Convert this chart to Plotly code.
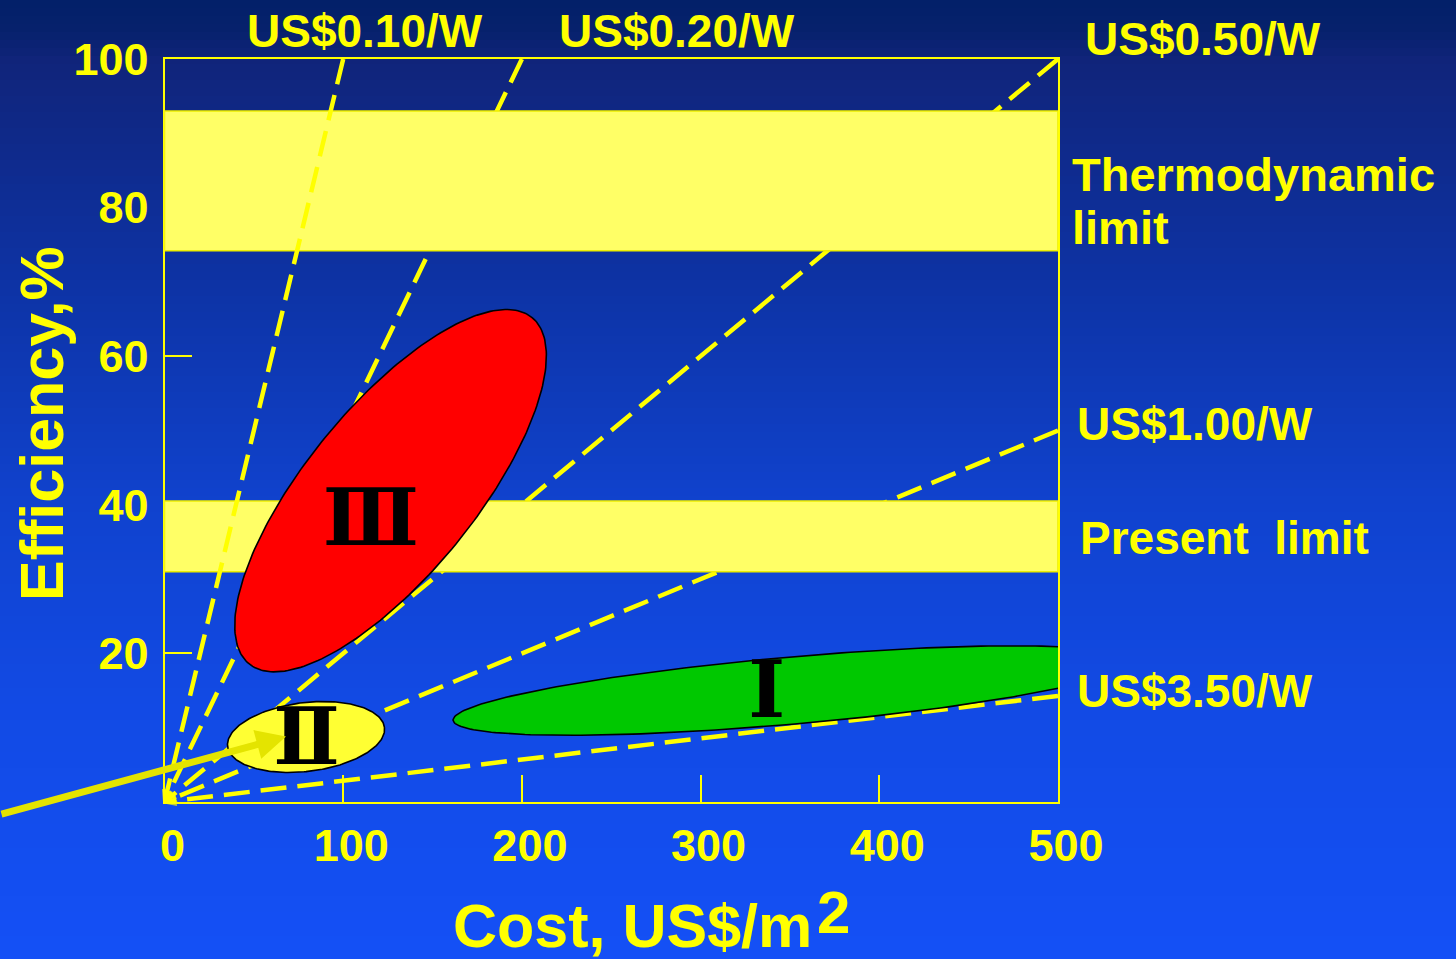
import numpy as np
import plotly.graph_objects as go

# ---------------------------------------------------------------- data
COST_TICKS = [0, 100, 200, 300, 400, 500]          # US$/m2
EFF_TICKS = [20, 40, 60, 80, 100]                  # %

# iso-cost lines in US$ per watt (peak, 1000 W/m2 sunlight)
PRICE_PER_W = [0.10, 0.20, 0.50, 1.00, 3.50]
PRICE_LABELS = ["US$0.10/W", "US$0.20/W", "US$0.50/W", "US$1.00/W", "US$3.50/W"]

# efficiency limits, %
LIMIT_NAMES = ["Thermodynamic limit", "Present limit"]
LIMIT_LOW = [74.2, 31.0]
LIMIT_HIGH = [93.0, 40.5]

# PV generations: region centre (cost, efficiency) and the two semi-axis
# vectors of each region, in (US$/m2, %) units
GEN_LABELS = ["Ⅰ", "Ⅱ", "Ⅲ"]
GEN_COST = [351.0, 79.2, 126.5]
GEN_EFF = [15.0, 8.75, 41.9]
GEN_MAJOR = [(189.5, 4.0), (43.9, 1.28), (79.2, 23.3)]
GEN_MINOR = [(-1.71, 4.5), (-2.31, 4.60), (-36.5, 7.2)]
GEN_LABEL_COST = [337.0, 79.5, 115.5]
GEN_LABEL_EFF = [14.1, 7.8, 37.2]
GEN_COLORS = ["#00c800", "#ffff33", "#ff0000"]

COST_MAX, EFF_MAX = 500, 100

# ---------------------------------------------------------------- layout helpers
W, H = 1456, 959
YEL = "#ffff00"
FONT = "Liberation Sans, Arial, Helvetica, sans-serif"


def px(x):
    return x / W


def py(y):
    return 1 - y / H


fig = go.Figure()

# background: vertical navy-to-blue gradient made of thin stripes
stops_y = [0, 30, 60, 300, 500, 700, 959]
stops_c = [(3, 32, 104), (6, 33, 108), (16, 36, 122), (13, 52, 168),
           (16, 66, 205), (18, 74, 228), (20, 80, 246)]
edges = np.arange(0, H + 8, 8)
shapes = []
for a, b in zip(edges[:-1], edges[1:]):
    mid = (a + b) / 2
    rgb = [int(round(np.interp(mid, stops_y, [c[k] for c in stops_c]))) for k in range(3)]
    shapes.append(dict(type="rect", xref="paper", yref="paper",
                       x0=0, x1=1, y0=py(min(b + 1, H)), y1=py(a),
                       fillcolor="rgb(%d,%d,%d)" % tuple(rgb), line_width=0,
                       layer="below"))


def price_line(p):
    c_end = min(COST_MAX, p * 1000.0)
    return [c_end, 0.0], [c_end / (p * 10.0), 0.0]


def add_price_line(p):
    xs, ys = price_line(p)
    fig.add_trace(go.Scatter(
        x=xs, y=ys, mode="lines+markers",
        line=dict(color=YEL, width=4.5, dash="26px,11px"),
        marker=dict(symbol=["circle", "arrow-open"], size=[0, 11],
                    angleref="previous", color=YEL,
                    line=dict(color=YEL, width=3)),
        hoverinfo="skip", showlegend=False, cliponaxis=False))


# iso-price lines running behind the limit bands
for p in PRICE_PER_W[1:]:
    add_price_line(p)

# efficiency limit bands
for lo, hi in zip(LIMIT_LOW, LIMIT_HIGH):
    fig.add_trace(go.Scatter(
        x=[0, COST_MAX, COST_MAX, 0, 0], y=[lo, lo, hi, hi, lo],
        mode="lines", fill="toself", fillcolor="#ffff66",
        line=dict(color="#eeee00", width=1.5),
        hoverinfo="skip", showlegend=False))

# the steepest iso-price line is drawn over the bands
add_price_line(PRICE_PER_W[0])

# generation regions
t = np.linspace(0, 2 * np.pi, 241)
for cx, cy, (ux, uy), (vx, vy), col in zip(GEN_COST, GEN_EFF, GEN_MAJOR, GEN_MINOR, GEN_COLORS):
    fig.add_trace(go.Scatter(
        x=cx + ux * np.cos(t) + vx * np.sin(t),
        y=cy + uy * np.cos(t) + vy * np.sin(t),
        mode="lines", fill="toself", fillcolor=col,
        line=dict(color="black", width=1.6),
        hoverinfo="skip", showlegend=False))

fig.add_trace(go.Scatter(
    x=GEN_LABEL_COST, y=GEN_LABEL_EFF, mode="text", text=GEN_LABELS,
    textfont=dict(family="DejaVu Serif", size=79, color="black", weight=700),
    textposition="middle center", hoverinfo="skip", showlegend=False))

# ---------------------------------------------------------------- annotations
ann = []


def label(text, x, y, xanchor="left", size=46, **kw):
    ann.append(dict(text=text, xref="paper", yref="paper", x=px(x), y=py(y),
                    xanchor=xanchor, yanchor="middle", showarrow=False,
                    font=dict(family=FONT, size=size, color=YEL, weight=700), **kw))


label(PRICE_LABELS[0], 365, 31, "center")
label(PRICE_LABELS[1], 677, 31, "center")
label(PRICE_LABELS[2], 1083, 39)
label(PRICE_LABELS[3], 1075, 424)
label(PRICE_LABELS[4], 1075, 691)
label("Thermodynamic", 1070, 174, size=47)
label("limit", 1070, 228, size=47)
label("Present\u00a0 limit", 1078, 538, size=46)

# axis titles
label("Efficiency,%", 42, 424, "center", size=61, textangle=-90)
label("Cost, US$/m", 451, 926, size=61)
label("2", 815, 912, size=60)

# arrow pointing at the second-generation region
ann.append(dict(x=68, y=8.8, xref="x", yref="y", ax=-292, ay=78, text="",
                showarrow=True, arrowhead=2, arrowsize=0.85, arrowwidth=7,
                arrowcolor="#e4e400", standoff=0))

axis_common = dict(showgrid=False, zeroline=False, showline=True, mirror=True,
                   linecolor=YEL, linewidth=2, ticks="inside", ticklen=27,
                   tickwidth=2, tickcolor=YEL, automargin=False,
                   tickfont=dict(family=FONT, size=45, color=YEL, weight=700))

fig.update_layout(
    width=W, height=H, margin=dict(l=0, r=0, t=0, b=0, autoexpand=False),
    paper_bgcolor="rgb(13,52,168)", plot_bgcolor="rgba(0,0,0,0)",
    shapes=shapes, annotations=ann, showlegend=False,
    xaxis=dict(range=[0, COST_MAX], domain=[px(164.5), px(1058)],
               tickvals=COST_TICKS, ticklabelstandoff=3, ticklabelshift=8,
               **axis_common),
    yaxis=dict(range=[0, EFF_MAX], domain=[py(802), py(59)],
               tickvals=EFF_TICKS, ticklabelstandoff=5, layer="below traces",
               **axis_common),
)

fig.write_html("out.html")
